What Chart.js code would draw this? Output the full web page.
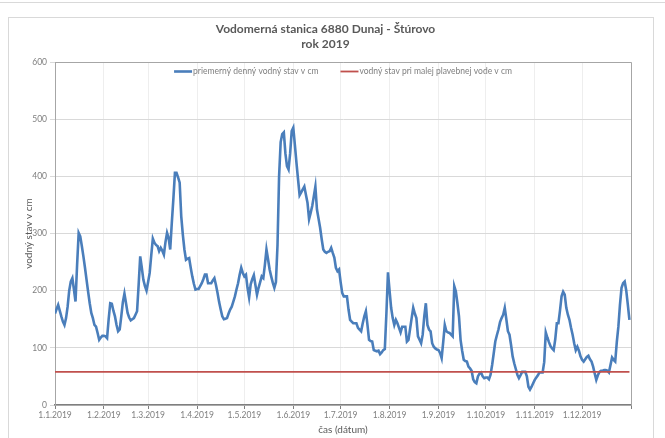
<!DOCTYPE html>
<html>
<head>
<meta charset="utf-8">
<script src="https://cdn.jsdelivr.net/npm/chart.js@4.4.1/dist/chart.umd.min.js"></script>
<style>
  html, body { margin: 0; padding: 0; background: #ffffff; }
  #page { position: relative; width: 665px; height: 438px; overflow: hidden; }
  #rule { position: absolute; left: 0; top: 2px; width: 665px; border-top: 1px solid #d9d9d9; }
  #frame { position: absolute; left: 8px; top: 17px; width: 646px; height: 440px; border: 1px solid #d9d9d9; box-sizing: border-box; }
  canvas { position: absolute; left: 0; top: 0; }
</style>
</head>
<body>
<div id="page">
  <div id="rule"></div>
  <div id="frame"></div>
  <canvas id="chart" width="665" height="438"></canvas>
</div>
<script>
// Average daily water level (cm), Danube at Štúrovo, 2019 – one array per month
const jan = [160,168,175,165,155,146,140,152,172,200,216,222,202,181,245,301,295,278,260,240,219,198,178,161,152,140,137,126,114,118,121];
const feb = [121,120,117,150,178,177,165,155,140,129,132,155,180,195,178,161,153,148,150,152,158,164,210,260,240,219,208,200];
const mar = [215,231,262,291,284,280,278,269,275,270,263,285,301,292,272,318,360,406,406,398,389,330,298,272,254,256,257,240,225,212,202];
const apr = [203,203,208,213,220,228,228,213,213,213,218,222,210,196,180,167,155,150,151,152,160,167,172,181,190,202,213,228,240,231];
const may = [225,228,205,188,211,220,227,210,193,205,215,225,222,245,272,255,237,225,214,205,215,280,400,460,474,477,440,418,412,440,479];
const jun = [485,455,424,395,367,372,377,382,368,354,325,336,348,365,382,342,326,310,290,272,268,266,268,269,275,266,258,240,234,237];
const jul = [215,196,190,190,190,167,149,146,143,143,143,135,132,129,143,155,164,140,114,112,111,96,95,94,95,89,92,96,98,160,232];
const aug = [200,170,152,140,149,143,135,127,137,137,137,111,114,133,152,170,160,152,120,114,108,123,155,178,140,132,129,108,102,99,97];
const sep = [96,91,82,110,140,129,127,126,123,120,208,199,178,155,114,95,79,77,76,67,64,60,45,40,38,50,55,57,50,47];
const oct = [48,48,45,53,70,90,111,122,132,145,152,158,170,150,129,123,105,85,73,63,53,47,52,58,58,58,50,32,27,32,38];
const nov = [44,48,52,57,57,57,75,127,118,110,103,99,96,115,143,143,165,190,198,193,170,158,149,135,123,108,96,102,95,85];
const dec = [79,76,80,84,86,80,76,67,55,44,52,58,60,60,61,61,60,57,70,83,79,76,110,137,175,205,213,216,200,175,149];

// Water level at low navigable water (cm)
const lowNavigationLevel = 58;

// Day-of-year index of each month start, and their axis labels
const monthStartDays = [0,31,59,90,120,151,181,212,243,273,304,334,365];
const monthLabels = ['1.1.2019','1.2.2019','1.3.2019','1.4.2019','1.5.2019','1.6.2019','1.7.2019','1.8.2019','1.9.2019','1.10.2019','1.11.2019','1.12.2019',''];

const seriesNames = ['priemerný denný vodný stav v cm', 'vodný stav pri malej plavebnej vode v cm'];
const titleLines = ['Vodomerná stanica 6880 Dunaj - Štúrovo', 'rok 2019'];
const xTitle = 'čas (dátum)';
const yTitle = 'vodný stav v cm';

const dailyLevel = [].concat(jan, feb, mar, apr, may, jun, jul, aug, sep, oct, nov, dec);

const FONT = 'Lato, "Liberation Sans", sans-serif';
const BLUE = '#4a7ebb';
const RED = '#c0504d';

// Frame around the plot area (top and right edges)
const plotFrame = {
  id: 'plotFrame',
  beforeDatasetsDraw(chart) {
    const { ctx, chartArea: a } = chart;
    ctx.save();
    ctx.strokeStyle = '#a6a6a6';
    ctx.lineWidth = 1;
    ctx.beginPath();
    ctx.moveTo(a.left, a.top + 0.5);
    ctx.lineTo(a.right + 0.5, a.top + 0.5);
    ctx.lineTo(a.right + 0.5, a.bottom);
    ctx.stroke();
    ctx.restore();
  }
};

// Legend drawn inside the top of the plot area, one row, centred
const innerLegend = {
  id: 'innerLegend',
  afterDraw(chart) {
    const { ctx, chartArea: a } = chart;
    const ds = chart.data.datasets;
    ctx.save();
    ctx.font = '8.5px ' + FONT;
    ctx.textBaseline = 'middle';
    const swatch = 18, gapText = 1, gapItem = 22;
    const widths = ds.map(d => swatch + gapText + ctx.measureText(d.label).width);
    const total = widths.reduce((s, w) => s + w, 0) + gapItem * (ds.length - 1);
    let x = (a.left + a.right) / 2 - total / 2;
    const y = a.top + 9.5;
    ds.forEach((d, i) => {
      ctx.strokeStyle = d.borderColor;
      ctx.lineWidth = d.borderWidth;
      ctx.beginPath();
      ctx.moveTo(x, y);
      ctx.lineTo(x + swatch, y);
      ctx.stroke();
      ctx.fillStyle = '#7f7f7f';
      ctx.fillText(d.label, x + swatch + gapText, y);
      x += widths[i] + gapItem;
    });
    ctx.restore();
  }
};

new Chart(document.getElementById('chart'), {
  type: 'line',
  data: {
    datasets: [
      {
        label: seriesNames[0],
        data: dailyLevel.map((v, i) => ({ x: i, y: v })),
        borderColor: BLUE,
        borderWidth: 2.6,
        pointRadius: 0,
        tension: 0,
        order: 1
      },
      {
        label: seriesNames[1],
        data: dailyLevel.map((v, i) => ({ x: i, y: lowNavigationLevel })),
        borderColor: RED,
        borderWidth: 1.8,
        pointRadius: 0,
        tension: 0,
        order: 0
      }
    ]
  },
  options: {
    responsive: false,
    animation: false,
    events: [],
    layout: { padding: { left: 20, right: 34, top: 1, bottom: 2 } },
    plugins: {
      legend: { display: false },
      tooltip: { enabled: false },
      title: {
        display: true,
        text: titleLines,
        color: '#595959',
        font: { family: FONT, size: 12, weight: 'bold', lineHeight: 1.25 },
        padding: { top: 21, bottom: 10 }
      }
    },
    scales: {
      x: {
        type: 'linear',
        min: 0,
        max: 365,
        afterBuildTicks: axis => { axis.ticks = monthStartDays.map(v => ({ value: v })); },
        afterFit: axis => { axis.height = 31; },
        ticks: {
          callback: (v, i) => monthLabels[i],
          autoSkip: false,
          maxRotation: 0,
          color: '#7f7f7f',
          font: { family: FONT, size: 8.5 },
          padding: 1
        },
        grid: { color: '#eeeeee', tickColor: '#7f7f7f', tickLength: 4 },
        border: { color: '#7f7f7f', width: 1.5 },
        title: {
          display: true,
          text: xTitle,
          color: '#595959',
          font: { family: FONT, size: 10 },
          padding: { top: 2, bottom: 0 }
        }
      },
      y: {
        min: 0,
        max: 600,
        afterFit: axis => { axis.width = 35; },
        ticks: {
          stepSize: 100,
          color: '#7f7f7f',
          font: { family: FONT, size: 8.5 },
          padding: 3
        },
        grid: { color: '#d9d9d9', tickColor: '#d9d9d9', tickLength: 5 },
        border: { color: '#a6a6a6' },
        title: {
          display: true,
          text: yTitle,
          color: '#595959',
          font: { family: FONT, size: 10 },
          padding: { top: 3, bottom: 0 }
        }
      }
    }
  },
  plugins: [plotFrame, innerLegend]
});
</script>
</body>
</html>
